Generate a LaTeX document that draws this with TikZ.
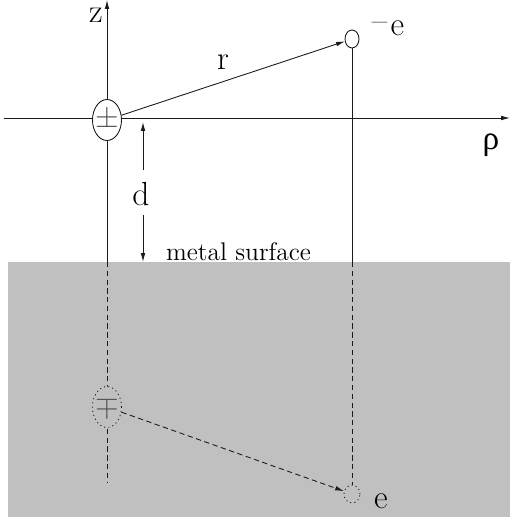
\documentclass[tikz,border=0pt]{standalone}
\usepackage{fontspec}
\newfontfamily\rhofont{Liberation Serif}
\usetikzlibrary{arrows.meta,positioning,shapes.geometric}
\definecolor{msInk}{HTML}{1A1A1A}
\definecolor{msMetal}{HTML}{C0C0C0}
\definecolor{msSign}{HTML}{555555}
\tikzset{
  lbl/.style={inner sep=0pt, font=\fontsize{19}{22}\selectfont},
  axis/.style={draw=msInk, line width=0.5pt},
  dsh/.style={axis, dash pattern=on 3pt off 2pt},
  chg/.style={ellipse, draw=msInk, line width=0.5pt, fill=white, inner sep=0pt, minimum width=0.58cm, minimum height=0.82cm, text=msSign, font=\fontsize{16}{18}\selectfont},
  imgchg/.style={chg, fill=msMetal, dash pattern=on 0.6pt off 1.8pt},
  elec/.style={ellipse, draw=msInk, line width=0.5pt, fill=white, inner sep=0pt, minimum width=0.28cm, minimum height=0.36cm},
  imgelec/.style={elec, fill=msMetal, minimum width=0.32cm, dash pattern=on 0.6pt off 1.8pt},
  arr/.style={-{Latex[length=5pt,width=2.6pt]}, axis},
  darr/.style={-{Latex[length=5pt,width=2.6pt]}, dsh},
}
\begin{document}
\begin{tikzpicture}[x=0.02cm, y=-0.02cm]
  \useasboundingbox (0,0) rectangle (510,517);
  \fill[msMetal] (8,262) rectangle (510,517);
  \coordinate (ztop) at (107,0);
  \coordinate (zsurf) at (107,262);
  \coordinate (zbot) at (107,482);
  \coordinate (rhol) at (4,118);
  \coordinate (rhor) at (510,118);
  \coordinate (esurf) at (352,262);
  \coordinate (dtop) at (143,122);
  \coordinate (dlow) at (143,170);
  \coordinate (dhigh) at (143,215);
  \coordinate (dsurf) at (143,262);
  \draw[arr] (zsurf) -- (ztop);
  \draw[dsh] (zsurf) -- (zbot);
  \draw[arr] (rhol) -- (rhor);
  \node[chg] (dip) at (107,120) {\makebox[0pt]{$\pm$}};
  \node[elec] (el) at (352,39) {};
  \node[imgchg] (idip) at (107,407) {\makebox[0pt]{$\mp$}};
  \node[imgelec] (iel) at (352,494) {};
  \node[lbl] (zlab) at (96,15) {z};
  \node[lbl] (rlab) at (223,62) {r};
  \node[lbl] (elab) at (388,28) {\raisebox{0.25ex}{--}\kern2pt e};
  \node[lbl] (rholab) at (491,145) {\rhofont ρ};
  \node[lbl] (dlab) at (141,194) {d};
  \node[lbl, anchor=base, font=\fontsize{14.5}{17}\selectfont] (surflab) at (238.5,260) {metal surface};
  \node[lbl] (ielab) at (381,501) {e};
  \draw[arr] (dip) -- (el);
  \draw[axis] (el) -- (esurf);
  \draw[dsh] (esurf) -- (iel);
  \draw[darr] (idip) -- (iel);
  \draw[arr] (dlow) -- (dtop);
  \draw[arr] (dhigh) -- (dsurf);
\end{tikzpicture}
\end{document}
